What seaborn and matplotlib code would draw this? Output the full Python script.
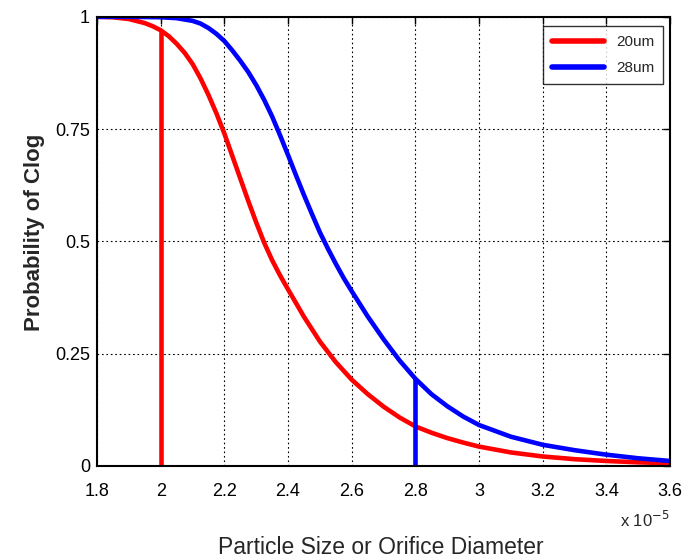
import numpy as np
import pandas as pd
import matplotlib
matplotlib.use("Agg")
import matplotlib.pyplot as plt
import seaborn as sns

# x values in units of 1e-5 m
x_red = [1.80, 1.85, 1.90, 1.95, 1.975, 2.00, 2.025, 2.05, 2.075, 2.10, 2.125, 2.15, 2.175,
         2.20, 2.225, 2.25, 2.275, 2.30, 2.325, 2.35, 2.375, 2.40, 2.45, 2.50, 2.55, 2.60,
         2.65, 2.70, 2.75, 2.80, 2.85, 2.90, 2.95, 3.00, 3.10, 3.20, 3.30, 3.40, 3.50, 3.60]
y_red = [1.000, 0.999, 0.995, 0.986, 0.979, 0.970, 0.957, 0.940, 0.920, 0.895, 0.863, 0.826, 0.785,
         0.740, 0.690, 0.640, 0.590, 0.542, 0.497, 0.458, 0.424, 0.393, 0.332, 0.277, 0.231, 0.192,
         0.160, 0.132, 0.108, 0.088, 0.074, 0.062, 0.052, 0.043, 0.030, 0.021, 0.015, 0.011, 0.008, 0.006]
x_blue = [1.80, 1.90, 2.00, 2.05, 2.10, 2.125, 2.15, 2.175, 2.20, 2.225, 2.25, 2.275, 2.30,
          2.325, 2.35, 2.375, 2.40, 2.425, 2.45, 2.475, 2.50, 2.525, 2.55, 2.575, 2.60,
          2.65, 2.70, 2.75, 2.80, 2.85, 2.90, 2.95, 3.00, 3.10, 3.20, 3.30, 3.40, 3.50, 3.60]
y_blue = [1.000, 1.000, 0.999, 0.997, 0.991, 0.985, 0.975, 0.962, 0.946, 0.925, 0.902, 0.877, 0.848,
          0.815, 0.778, 0.736, 0.692, 0.647, 0.603, 0.561, 0.520, 0.484, 0.450, 0.418, 0.389,
          0.333, 0.282, 0.235, 0.194, 0.160, 0.133, 0.110, 0.091, 0.065, 0.047, 0.035, 0.025, 0.017, 0.011]
series_names = ["20um", "28um"]
marker_x = [2.0, 2.8]
marker_top = [0.969, 0.193]
colors = ["#ff0000", "#0000ff"]

xticks = [1.8, 2.0, 2.2, 2.4, 2.6, 2.8, 3.0, 3.2, 3.4, 3.6]
xtick_labels = ["1.8", "2", "2.2", "2.4", "2.6", "2.8", "3", "3.2", "3.4", "3.6"]
yticks = [0, 0.25, 0.5, 0.75, 1]
ytick_labels = ["0", "0.25", "0.5", "0.75", "1"]

sns.set_style("white")
plt.rcParams['font.family'] = ['Liberation Sans', 'DejaVu Sans']

df = pd.concat([
    pd.DataFrame({"x": x_red, "y": y_red, "series": series_names[0]}),
    pd.DataFrame({"x": x_blue, "y": y_blue, "series": series_names[1]}),
])

fig = plt.figure(figsize=(6.93, 5.6), dpi=100)
ax = fig.add_axes([0.14, 0.168, 0.827, 0.802])

sns.lineplot(data=df, x="x", y="y", hue="series", palette=colors, linewidth=3.3,
             ax=ax, sort=False, estimator=None)
for xv, yt, c in zip(marker_x, marker_top, colors):
    sns.lineplot(x=[xv, xv], y=[0, yt], color=c, linewidth=3.3, ax=ax, legend=False,
                 sort=False, estimator=None)
for ln in ax.get_lines():
    ln.set_solid_joinstyle("round")

ax.set_xlim(1.8, 3.6)
ax.set_ylim(0, 1)
ax.set_xticks(xticks)
ax.set_xticklabels(xtick_labels)
ax.set_yticks(yticks)
ax.set_yticklabels(ytick_labels)
ax.tick_params(direction="in", length=5, width=1, top=True, right=True,
               labelsize=13, colors="black")
ax.tick_params(axis="x", pad=12)
ax.tick_params(axis="y", pad=5)
ax.grid(True, color="black", linestyle=(0, (1.5, 2.5)), linewidth=0.8)
for s in ax.spines.values():
    s.set_visible(True)
    s.set_color("black")
    s.set_linewidth(1.5)

ax.set_xlabel("Particle Size or Orifice Diameter", fontsize=16.5)
ax.xaxis.set_label_coords(0.495, -0.155)
ax.set_ylabel("Probability of Clog", fontsize=16, fontweight="bold")
ax.yaxis.set_label_coords(-0.09, 0.519)
ax.text(1.0, -0.12, "x 10$^{-5}$", transform=ax.transAxes, ha="right", va="center",
        fontsize=12)

leg = ax.legend(loc="upper right", bbox_to_anchor=(0.988, 0.979), fontsize=11,
                frameon=True, fancybox=False, edgecolor="black", handlelength=3.4,
                borderpad=0.6, labelspacing=0.75, handletextpad=0.8, borderaxespad=0)
leg.get_frame().set_linewidth(1.0)
for lh in leg.get_lines():
    lh.set_linewidth(4)
leg.set_title(None)

fig.savefig("out.png", dpi=100)
